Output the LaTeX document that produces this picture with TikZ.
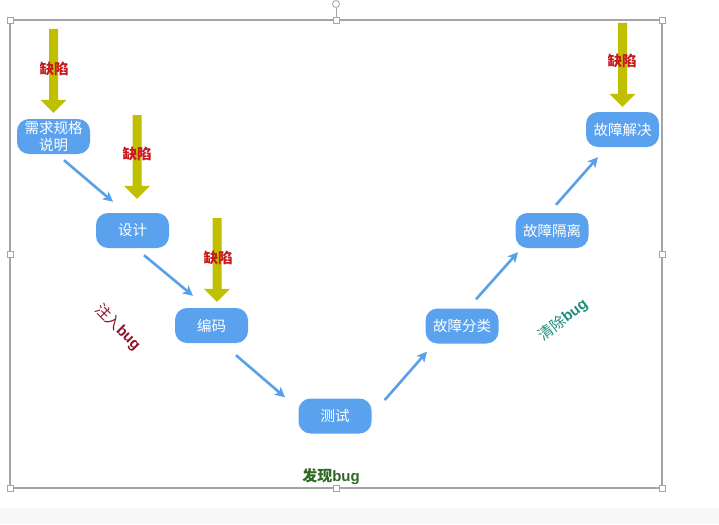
\documentclass[tikz,border=0pt]{standalone}
\usepackage{fontspec}
\setmainfont{Liberation Sans}
\newfontfamily\cjk{Noto Sans CJK SC}
\usetikzlibrary{arrows.meta,calc}
\definecolor{boxblue}{RGB}{90,162,238}
\definecolor{arrblue}{RGB}{88,160,232}
\definecolor{yel}{RGB}{192,192,0}
\definecolor{defred}{RGB}{200,25,30}
\definecolor{injred}{RGB}{140,20,40}
\definecolor{clrteal}{RGB}{30,140,125}
\definecolor{fndgreen}{RGB}{45,105,35}
\definecolor{framegray}{RGB}{165,165,165}
\newcommand\yarw[2]{\fill[yel] (#1) -- ($(#1)+(13,-13)$) -- ($(#1)+(4.5,-13)$) -- ($(#1|-#2)+(4.5,0)$) -- ($(#1|-#2)+(-4.5,0)$) -- ($(#1)+(-4.5,-13)$) -- ($(#1)+(-13,-13)$) -- cycle;}
\begin{document}
\begin{tikzpicture}[x=1pt,y=-1pt,
  stage/.style={fill=boxblue, rounded corners=12pt, minimum width=73pt, minimum height=35pt,
    text=white, font=\cjk\fontsize{14.5}{16.5}\selectfont, align=center, inner sep=0pt},
  flow/.style={draw=arrblue, line width=2.6pt, -{Stealth[length=10pt,width=10pt,inset=2.5pt]}},
  defect/.style={text=defred, font=\cjk\bfseries\fontsize{14.5}{16}\selectfont, inner sep=0pt},
  handle/.style={draw=framegray, fill=white, line width=0.8pt, minimum size=6pt, inner sep=0pt},
  side/.style={font=\fontsize{15}{17}\selectfont, inner sep=0pt}
]
\useasboundingbox (0,0) rectangle (719,524);
\fill[white] (0,0) rectangle (719,524);
\fill[gray!6] (0,508) rectangle (719,524);
% selection frame
\draw[framegray, line width=1.2pt] (10,20) rectangle (662,488);
\draw[framegray, line width=0.8pt] (336,8) -- (336,20);
\draw[framegray, line width=0.8pt, fill=white] (336,4) circle (3.5);
\node[handle] (hnw) at (10,20) {};
\node[handle] (hn) at (336,20) {};
\node[handle] (hne) at (662,20) {};
\node[handle] (hw) at (10,254) {};
\node[handle] (he) at (662,254) {};
\node[handle] (hsw) at (10,488) {};
\node[handle] (hs) at (336,488) {};
\node[handle] (hse) at (662,488) {};
% stages
\node[stage] (req) at (53.5,136.5) {需求规格\\说明};
\node[stage] (des) at (132.5,230.5) {设计};
\node[stage] (cod) at (211.5,325.5) {编码};
\node[stage] (tst) at (335,416) {测试};
\node[stage] (cls) at (462,326) {故障分类};
\node[stage] (iso) at (552,230.5) {故障隔离};
\node[stage] (sol) at (622.5,129.5) {故障解决};
% flow arrows
\draw[flow] ([xshift=10.5pt,yshift=-6pt]req.south) -- ([xshift=-19.5pt,yshift=11pt]des.north);
\draw[flow] ([xshift=11.5pt,yshift=-7pt]des.south) -- ([xshift=-18.5pt,yshift=12pt]cod.north);
\draw[flow] ([xshift=24.5pt,yshift=-12pt]cod.south) -- ([xshift=-50pt,yshift=1pt]tst.north);
\draw[flow] ([xshift=13pt,yshift=16pt]tst.east) -- ([xshift=-35pt,yshift=-8pt]cls.south);
\draw[flow] ([xshift=14pt,yshift=9pt]cls.north) -- ([xshift=-34pt,yshift=-4pt]iso.south);
\draw[flow] ([xshift=4pt,yshift=8pt]iso.north) -- ([xshift=-24.5pt,yshift=-10pt]sol.south);
% defect arrows
\coordinate (y1tip) at ([yshift=6pt]req.north);
\coordinate (y1top) at (54,29);
\coordinate (y2tip) at ([xshift=4.5pt,yshift=14pt]des.north);
\coordinate (y2top) at (137,115);
\coordinate (y3tip) at ([xshift=5.5pt,yshift=6pt]cod.north);
\coordinate (y3top) at (217,218);
\coordinate (y4tip) at ([yshift=5pt]sol.north);
\coordinate (y4top) at (622,23);
\yarw{y1tip}{y1top}
\yarw{y2tip}{y2top}
\yarw{y3tip}{y3top}
\yarw{y4tip}{y4top}
\node[defect] (d1) at (54,69) {缺陷};
\node[defect] (d2) at (137,154) {缺陷};
\node[defect] (d3) at (218,258) {缺陷};
\node[defect] (d4) at (622,61) {缺陷};
% side labels
\node[side, text=injred, rotate=-45] (inj) at (118,327) {{\cjk 注入}\textbf{bug}};
\node[side, text=clrteal, rotate=38] (clr) at (563,320) {{\cjk 清除}\textbf{bug}};
\node[side, text=fndgreen] (fnd) at (331,477) {{\cjk\bfseries 发现}\textbf{bug}};
\end{tikzpicture}
\end{document}
